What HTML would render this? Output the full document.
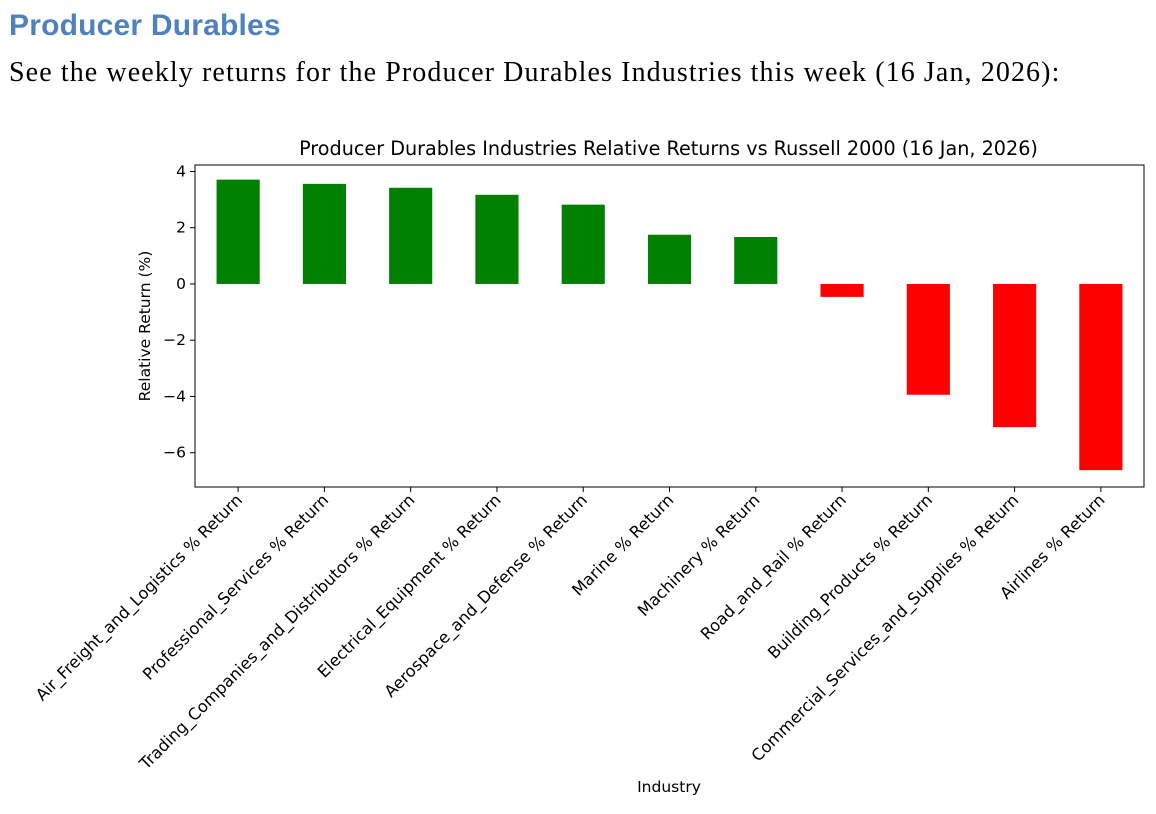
<!DOCTYPE html>
<html><head><meta charset="utf-8"><style>
body{margin:0;background:#fff;width:1156px;height:814px;overflow:hidden;position:relative}
#h{position:absolute;left:9px;top:9px;font:bold 30px "Liberation Sans",sans-serif;color:#4f81bd;letter-spacing:0.2px}
#p{position:absolute;left:9px;top:57px;font:28px "Liberation Serif",serif;color:#000;letter-spacing:1.1px}
svg{position:absolute;left:0;top:0}
text{font-family:"DejaVu Sans","Liberation Sans",sans-serif}
</style></head><body>
<div id="h">Producer Durables</div>
<div id="p">See the weekly returns for the Producer Durables Industries this week (16 Jan, 2026):</div>
<svg id="c" width="1156" height="814"></svg>
<script>
const categories=["Air_Freight_and_Logistics % Return","Professional_Services % Return","Trading_Companies_and_Distributors % Return","Electrical_Equipment % Return","Aerospace_and_Defense % Return","Marine % Return","Machinery % Return","Road_and_Rail % Return","Building_Products % Return","Commercial_Services_and_Supplies % Return","Airlines % Return"];
const values=[3.71,3.56,3.42,3.17,2.82,1.75,1.67,-0.46,-3.94,-5.09,-6.62];
const yTicks=[4,2,0,-2,-4,-6];
const NS="http://www.w3.org/2000/svg",svg=document.getElementById('c');
const L=195,R=1144,T=165,B=487,yMin=-7.22,yMax=4.23;
const x=i=>L+(i+0.5)*(R-L)/categories.length;
const y=v=>T+(yMax-v)/(yMax-yMin)*(B-T);
function el(t,a,txt){const e=document.createElementNS(NS,t);for(const k in a)e.setAttribute(k,a[k]);if(txt!=null)e.textContent=txt;svg.appendChild(e);return e;}
const bw=0.5*(R-L)/categories.length;
values.forEach((v,i)=>{const r=el('rect',{x:x(i)-bw/2,y:Math.min(y(v),y(0)),width:bw,height:Math.abs(y(v)-y(0)),fill:v>=0?'#008000':'#ff0000'});

});
const f=el('rect',{x:L,y:T,width:R-L,height:B-T,fill:'none',stroke:'#000','stroke-width':1});


yTicks.forEach(t=>{el('line',{x1:L-5,x2:L,y1:y(t),y2:y(t),stroke:'#000'});
const tx=el('text',{x:L-9,y:y(t)+5,'text-anchor':'end','font-size':15.5},String(t).replace('-','\u2212'));

});
categories.forEach((c,i)=>{el('line',{x1:x(i),x2:x(i),y1:B,y2:B+5,stroke:'#000'});
const tx=el('text',{x:x(i)+5,y:B+14,'text-anchor':'end','font-size':16.3,transform:`rotate(-45 ${x(i)+5} ${B+14})`},c);

});
const t1=el('text',{x:(L+R)/2-1,y:155,'text-anchor':'middle','font-size':19.2},'Producer Durables Industries Relative Returns vs Russell 2000 (16 Jan, 2026)');


const t2=el('text',{x:669,y:792,'text-anchor':'middle','font-size':15.5},'Industry');


const t3=el('text',{x:150,y:326,'text-anchor':'middle','font-size':15.5,transform:'rotate(-90 150 326)'},'Relative Return (%)');


</script>
</body></html>
